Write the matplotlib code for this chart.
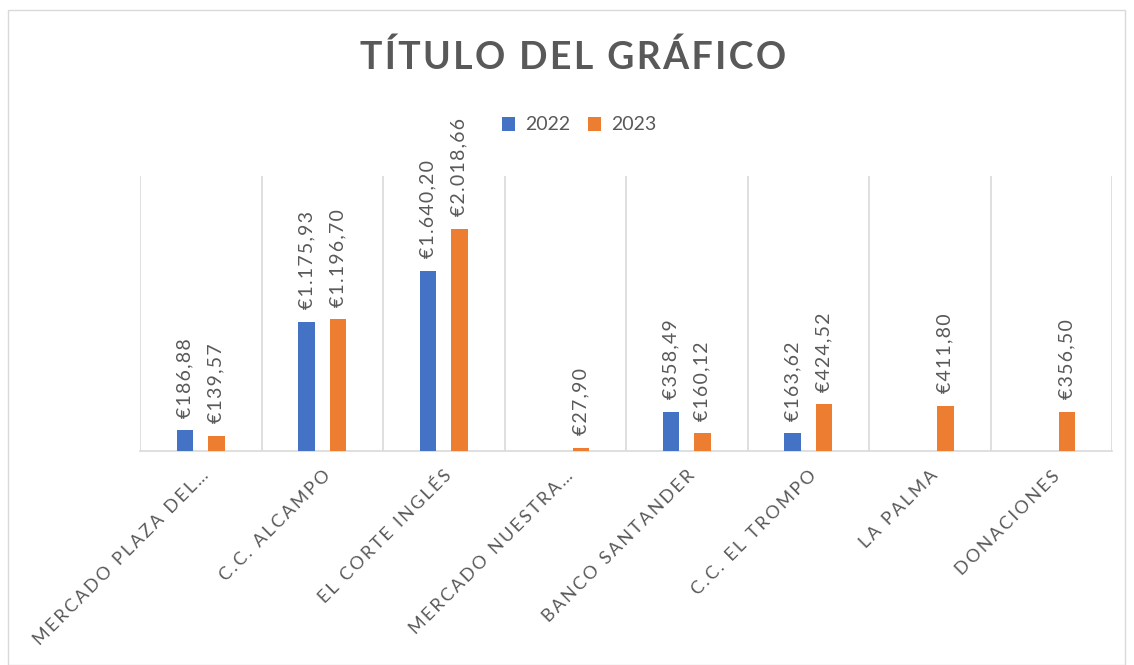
import numpy as np
import matplotlib
matplotlib.use("Agg")
import matplotlib.pyplot as plt
from matplotlib.patches import Rectangle

categories = ["MERCADO PLAZA DEL…", "C.C. ALCAMPO", "EL CORTE INGLÉS", "MERCADO NUESTRA…",
              "BANCO SANTANDER", "C.C. EL TROMPO", "LA PALMA", "DONACIONES"]
values_2022 = [186.88, 1175.93, 1640.20, np.nan, 358.49, 163.62, np.nan, np.nan]
values_2023 = [139.57, 1196.70, 2018.66, 27.90, 160.12, 424.52, 411.80, 356.50]
series_names = ["2022", "2023"]
colors = ["#4472C4", "#ED7D31"]
title = "TÍTULO DEL GRÁFICO"

FONT = ["Lato", "DejaVu Sans"]
GRAY = "#595959"

def spaced(s, sep="\u200a"):
    return sep.join(list(s))

def fmt(v):
    s = f"{v:,.2f}"
    s = s.replace(",", "X").replace(".", ",").replace("X", ".")
    return "€" + s

fig = plt.figure(figsize=(11.34, 6.65), dpi=100)
fig.patches.append(Rectangle((8/1134, 0), (1125-8)/1134, 1 - 10/665, transform=fig.transFigure,
                             fill=False, edgecolor="#d9d9d9", linewidth=1.0))
ax = fig.add_axes([140/1134, 1 - 451/665, (1112-140)/1134, (451-176)/665])

x = np.arange(len(categories))
off = 0.128
w = 0.135
for i, (vals, c) in enumerate(zip([values_2022, values_2023], colors)):
    xs = x + (-off if i == 0 else off)
    ax.bar(xs, vals, width=w, color=c, label=series_names[i], zorder=3)
    for xi, v in zip(xs, vals):
        if np.isnan(v):
            continue
        ax.annotate(spaced(fmt(v), "\u200a"), (xi, v), xytext=(0, 9), textcoords="offset points",
                    rotation=90, ha="center", va="bottom", color=GRAY,
                    fontsize=14, family=FONT)

ax.set_xlim(-0.5, len(categories) - 0.5)
ax.set_ylim(0, 2500)
for b in np.arange(-0.5, len(categories), 1.0):
    ax.axvline(b, color="#d9d9d9", linewidth=1.2, zorder=1)
for s in ["top", "left", "right"]:
    ax.spines[s].set_visible(False)
ax.spines["bottom"].set_color("#d9d9d9")
ax.spines["bottom"].set_linewidth(1.2)
ax.set_yticks([])
ax.set_xticks(x)
ax.set_xticklabels([spaced(c, "\u2009") for c in categories], rotation=45, ha="right",
                   rotation_mode="anchor", color=GRAY, fontsize=13, family=FONT)
ax.tick_params(axis="x", length=0, pad=12)

fig.text(573/1134, 1 - 57/665, spaced(title, "\u200a"), ha="center", va="center",
         fontsize=27, fontweight="bold", color=GRAY, family=FONT)

leg = fig.legend(loc="center", bbox_to_anchor=(579/1134, 1 - 125/665), ncol=2, frameon=False,
                 prop={"family": FONT, "size": 14}, handlelength=0.7, handleheight=0.7,
                 columnspacing=0.9, handletextpad=0.5)
for t in leg.get_texts():
    t.set_color(GRAY)

fig.savefig("out.png", dpi=100)
